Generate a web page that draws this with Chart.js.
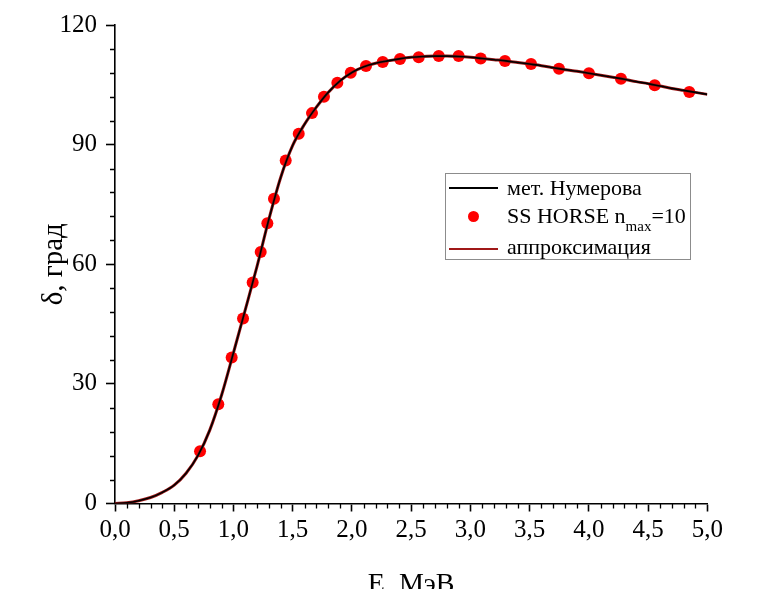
<!DOCTYPE html>
<html>
<head>
<meta charset="utf-8">
<script src="https://cdn.jsdelivr.net/npm/chart.js@4.4.0/dist/chart.umd.min.js"></script>
<style>
  html, body { margin: 0; padding: 0; background: #fff; }
  #wrap { width: 759px; height: 589px; }
</style>
</head>
<body>
<div id="wrap"><canvas id="chart" width="759" height="589"></canvas></div>
<script>
// Curves (step 0.1 MeV)
const curveE = [0.0, 0.1, 0.2, 0.3, 0.4, 0.5, 0.6, 0.7, 0.8, 0.9,
                1.0, 1.1, 1.2, 1.3, 1.4, 1.5, 1.6, 1.7, 1.8, 1.9,
                2.0, 2.1, 2.2, 2.3, 2.4, 2.5, 2.6, 2.7, 2.8, 2.9,
                3.0, 3.1, 3.2, 3.3, 3.4, 3.5, 3.6, 3.7, 3.8, 3.9,
                4.0, 4.1, 4.2, 4.3, 4.4, 4.5, 4.6, 4.7, 4.8, 4.9, 5.0];
const numerovDelta = [0.0, 0.2, 0.7, 1.5, 2.8, 4.6, 7.6, 12.0, 18.4, 27.2,
                      37.8, 48.6, 59.6, 71.4, 81.9, 89.8, 95.1, 99.4, 103.1, 106.0,
                      108.1, 109.5, 110.4, 111.0, 111.5, 111.9, 112.1, 112.2, 112.2, 112.1,
                      111.9, 111.6, 111.3, 111.0, 110.6, 110.2, 109.8, 109.3, 108.8, 108.4,
                      107.9, 107.4, 106.9, 106.4, 105.8, 105.3, 104.7, 104.1, 103.6, 103.1, 102.6];
const approxDelta = [0.0, 0.2, 0.7, 1.5, 2.8, 4.6, 7.6, 12.0, 18.4, 27.2,
                     37.8, 48.6, 59.6, 71.4, 81.9, 89.8, 95.1, 99.4, 103.1, 106.0,
                     108.1, 109.5, 110.4, 111.0, 111.5, 111.9, 112.1, 112.2, 112.2, 112.1,
                     111.9, 111.6, 111.3, 111.0, 110.6, 110.2, 109.8, 109.3, 108.8, 108.4,
                     107.9, 107.4, 106.9, 106.4, 105.8, 105.3, 104.7, 104.1, 103.6, 103.1, 102.6];

// SS HORSE points
const horseE = [0.718, 0.872, 0.985, 1.081, 1.162, 1.230, 1.286, 1.342, 1.441, 1.551,
                1.663, 1.764, 1.877, 1.990, 2.119, 2.260, 2.406, 2.564, 2.733, 2.901,
                3.087, 3.292, 3.512, 3.748, 4.001, 4.271, 4.556, 4.848];
const horseDelta = [13.1, 24.9, 36.6, 46.4, 55.4, 63.1, 70.3, 76.4, 86.0, 92.7,
                    97.9, 102.0, 105.5, 108.0, 109.7, 110.7, 111.5, 111.9, 112.2, 112.2,
                    111.6, 111.0, 110.2, 109.0, 107.9, 106.5, 104.9, 103.2];

// Axis ranges and labels
const xRange = [0, 5];
const xStep = 0.5;
const yRange = [0, 120];
const yStep = 30;
const xTitle = 'E, МэВ';
const yTitle = 'δ, град';
const legendLabels = ['мет. Нумерова', 'SS HORSE n', 'аппроксимация'];

const SERIF = "'Liberation Serif', 'Times New Roman', serif";

const zip = (xs, ys) => xs.map((v, i) => ({x: v, y: ys[i]}));

// Minor ticks on both axes
const minorTicks = {
  id: 'minorTicks',
  afterDraw(chart) {
    const {ctx, scales: {x, y}} = chart;
    ctx.save();
    ctx.strokeStyle = '#000';
    ctx.lineWidth = 1.3;
    ctx.beginPath();
    for (let i = 1; i < 50; i++) {
      if (i % 5 === 0) continue;
      const px = Math.round(x.getPixelForValue(i / 10)) + 0.5;
      ctx.moveTo(px, x.top);
      ctx.lineTo(px, x.top + 5);
    }
    for (let i = 1; i < 20; i++) {
      if (i % 5 === 0) continue;
      const py = Math.round(y.getPixelForValue(i * 6)) + 0.5;
      ctx.moveTo(y.right, py);
      ctx.lineTo(y.right - 5, py);
    }
    ctx.stroke();
    ctx.restore();
  }
};

// Legend box with subscript
const boxLegend = {
  id: 'boxLegend',
  afterDraw(chart) {
    const ctx = chart.ctx;
    ctx.save();
    ctx.fillStyle = '#fff';
    ctx.fillRect(445, 173, 245, 86);
    ctx.strokeStyle = '#8c8c8c';
    ctx.lineWidth = 1;
    ctx.strokeRect(445.5, 173.5, 245, 86);

    ctx.lineWidth = 2;
    ctx.strokeStyle = '#000';
    ctx.beginPath(); ctx.moveTo(449, 188); ctx.lineTo(498, 188); ctx.stroke();
    ctx.strokeStyle = '#a01818';
    ctx.beginPath(); ctx.moveTo(449, 249); ctx.lineTo(498, 249); ctx.stroke();
    ctx.fillStyle = '#ff0000';
    ctx.beginPath(); ctx.arc(473.5, 216.5, 5.5, 0, Math.PI * 2); ctx.fill();

    ctx.fillStyle = '#000';
    ctx.textBaseline = 'alphabetic';
    ctx.font = '22px ' + SERIF;
    ctx.fillText(legendLabels[0], 507, 195);
    ctx.fillText(legendLabels[2], 507, 254);
    let tx = 507;
    ctx.fillText(legendLabels[1], tx, 223);
    tx += ctx.measureText(legendLabels[1]).width;
    ctx.font = '15px ' + SERIF;
    ctx.fillText('max', tx, 231);
    tx += ctx.measureText('max').width;
    ctx.font = '22px ' + SERIF;
    ctx.fillText('=10', tx, 223);
    ctx.restore();
  }
};

new Chart(document.getElementById('chart'), {
  type: 'scatter',
  data: {
    datasets: [
      {
        label: legendLabels[0],
        type: 'line',
        data: zip(curveE, numerovDelta),
        borderColor: '#000',
        borderWidth: 1.6,
        pointRadius: 0,
        cubicInterpolationMode: 'monotone',
        order: 0
      },
      {
        label: legendLabels[2],
        type: 'line',
        data: zip(curveE, approxDelta),
        borderColor: '#a01818',
        borderWidth: 3,
        pointRadius: 0,
        cubicInterpolationMode: 'monotone',
        order: 1
      },
      {
        label: legendLabels[1],
        data: zip(horseE, horseDelta),
        backgroundColor: '#ff0000',
        borderWidth: 0,
        pointRadius: 6,
        order: 2
      }
    ]
  },
  options: {
    responsive: false,
    animation: false,
    devicePixelRatio: 1,
    layout: {padding: {top: 25, right: 51.7, left: 0, bottom: 0}},
    plugins: {legend: {display: false}, tooltip: {enabled: false}},
    scales: {
      x: {
        type: 'linear',
        min: xRange[0], max: xRange[1],
        afterFit: (s) => { s.height = 85.5; },
        border: {color: '#000', width: 1.6},
        grid: {drawOnChartArea: false, tickLength: 8, tickColor: '#000', tickWidth: 1.6},
        ticks: {
          stepSize: xStep, padding: 4, color: '#000',
          font: {family: SERIF, size: 25},
          maxRotation: 0,
          callback: (v) => v.toFixed(1).replace('.', ',')
        },
        title: {display: true, text: xTitle, color: '#000',
                font: {family: SERIF, size: 28}, padding: {top: 0, bottom: -12}}
      },
      y: {
        min: yRange[0], max: yRange[1],
        afterFit: (s) => { s.width = 115; },
        border: {color: '#000', width: 1.6},
        grid: {drawOnChartArea: false, tickLength: 9, tickColor: '#000', tickWidth: 1.6},
        ticks: {stepSize: yStep, padding: 9, color: '#000', font: {family: SERIF, size: 25}},
        title: {display: true, text: yTitle, color: '#000',
                font: {family: SERIF, size: 29}, padding: {top: 37, bottom: 0}}
      }
    }
  },
  plugins: [minorTicks, boxLegend]
});
</script>
</body>
</html>
